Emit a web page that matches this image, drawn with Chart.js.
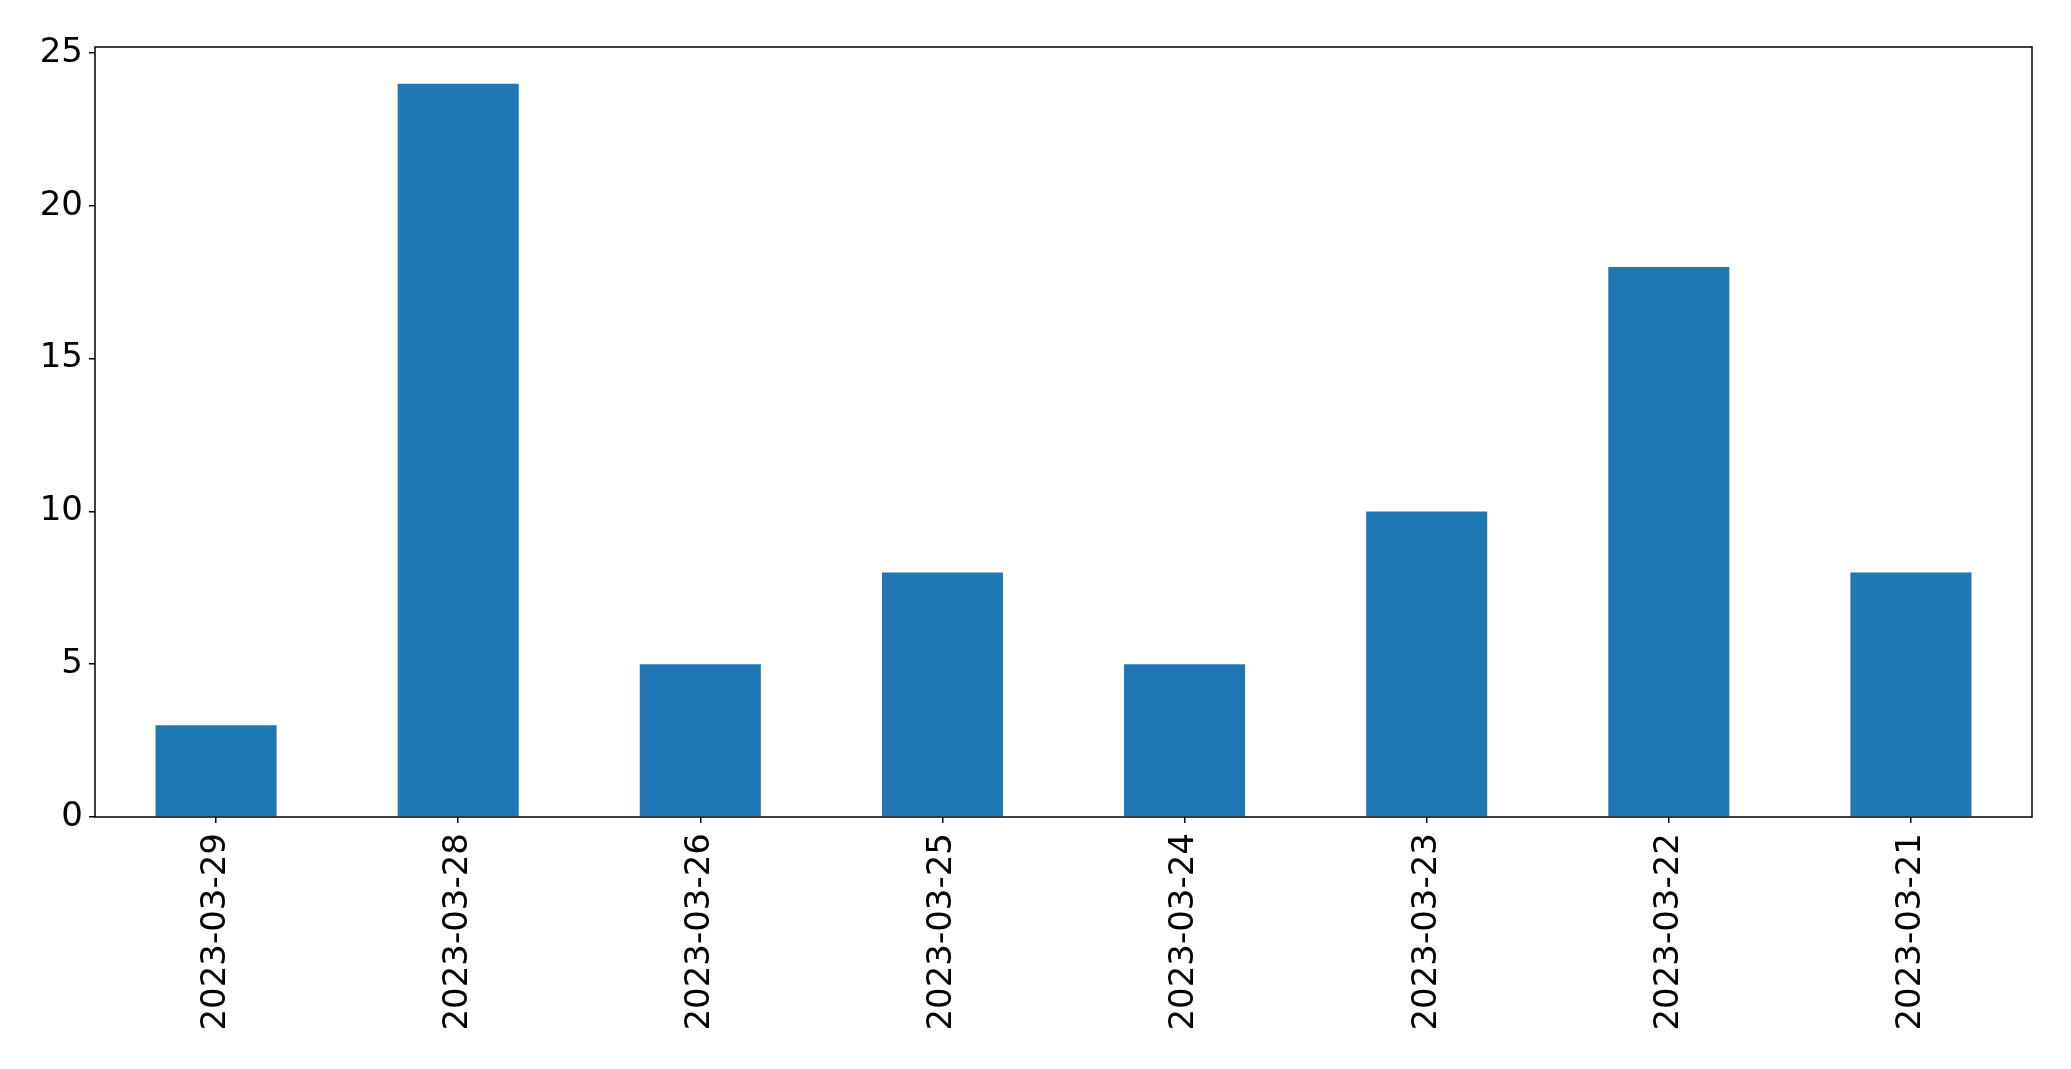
<!DOCTYPE html>
<html><head><meta charset="utf-8">
<script src="https://cdn.jsdelivr.net/npm/chart.js@4/dist/chart.umd.min.js"></script>
<style>html,body{margin:0;padding:0;background:#fff;}#wrap{width:2071px;height:1069px;}</style>
</head><body><div id="wrap"><canvas id="c" width="2071" height="1069"></canvas></div>
<script>
const categories = ["2023-03-29","2023-03-28","2023-03-26","2023-03-25","2023-03-24","2023-03-23","2023-03-22","2023-03-21"];
const counts = [3, 24, 5, 8, 5, 10, 18, 8];
const yTicks = [0, 5, 10, 15, 20, 25];

const boxPlugin = {
  id: 'box',
  afterDraw(chart) {
    const {ctx, chartArea: a} = chart;
    ctx.save();
    ctx.strokeStyle = '#000';
    ctx.lineWidth = 1.5;
    ctx.strokeRect(a.left, a.top, a.right - a.left, a.bottom - a.top);
    ctx.restore();
  }
};

new Chart(document.getElementById('c'), {
  type: 'bar',
  data: {
    labels: categories,
    datasets: [{ data: counts, backgroundColor: '#1f77b4', borderWidth: 0, barPercentage: 0.5, categoryPercentage: 1.0 }]
  },
  options: {
    responsive: false,
    animation: false,
    devicePixelRatio: 1,
    layout: { padding: { left: 0, top: 47, right: 39, bottom: 0 } },
    plugins: { legend: { display: false }, tooltip: { enabled: false } },
    scales: {
      x: {
        grid: { display: true, offset: false, drawOnChartArea: false, drawTicks: true, tickLength: 6, color: '#000', lineWidth: 1.5 },
        border: { display: false },
        ticks: { color: '#000', font: { family: 'DejaVu Sans', size: 34 }, minRotation: 90, maxRotation: 90, padding: 10, autoSkip: false },
        afterFit(s) { s.height = 252; }
      },
      y: {
        min: 0, max: 25.2,
        grid: { display: true, drawOnChartArea: false, drawTicks: true, tickLength: 6, color: '#000', lineWidth: 1.5 },
        border: { display: false },
        ticks: { color: '#000', font: { family: 'DejaVu Sans', size: 34 }, padding: 6, stepSize: 5 },
        afterBuildTicks(s) { s.ticks = yTicks.map(v => ({ value: v })); },
        afterFit(s) { s.width = 95; }
      }
    }
  },
  plugins: [boxPlugin]
});
</script></body></html>
